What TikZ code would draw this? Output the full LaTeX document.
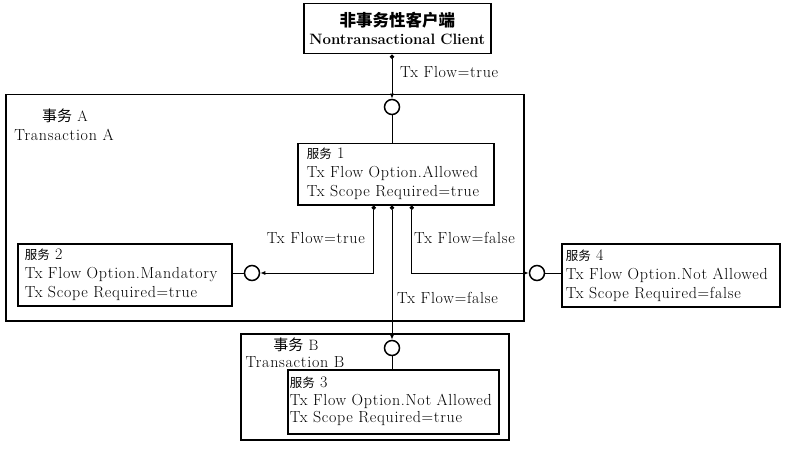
\documentclass[tikz,border=0pt]{standalone}
\usepackage{fontspec}
\newfontfamily\cjk{Noto Sans CJK SC}
\newfontfamily\wide{Latin Modern Roman}[LetterSpace=4.5]
\usetikzlibrary{arrows.meta,positioning,calc}
\tikzset{
  svcbox/.style={draw, line width=1.5pt, align=left, anchor=north west,
    inner xsep=4pt, inner ysep=0pt, font=\wide\fontsize{16}{19}\selectfont},
  txframe/.style={draw, line width=1.5pt, anchor=north west, inner sep=0pt},
  port/.style={draw, circle, line width=1.5pt, minimum size=15pt, inner sep=0pt, fill=white},
  flow/.style={line width=1pt, {Circle[length=4.5pt]}-{Latex[length=5pt,width=4pt]}},
  wire/.style={line width=1pt},
  flowlabel/.style={font=\wide\fontsize{16}{19}\selectfont, inner sep=0pt},
}
\begin{document}
\begin{tikzpicture}[x=1pt, y=-1pt]
\useasboundingbox (0,0) rectangle (791,449);
% ---------------- transaction frames ----------------
\node[txframe, minimum width=518pt, minimum height=226pt] (txA) at (5,94) {};
\node[font=\wide\fontsize{15}{15}\selectfont, inner sep=0pt] (txAcn) at (65,116) {{\cjk 事务} A};
\node[font=\wide\fontsize{16}{16}\selectfont, inner sep=0pt] (txAen) at (64,135) {Transaction A};
\node[txframe, minimum width=268pt, minimum height=106pt] (txB) at (240,333) {};
\node[font=\wide\fontsize{15}{15}\selectfont, inner sep=0pt] (txBcn) at (296,345) {{\cjk 事务} B};
\node[font=\wide\fontsize{16}{16}\selectfont, inner sep=0pt] (txBen) at (295,362.5) {Transaction B};
% ---------------- client and services ----------------
\node[svcbox, align=center, minimum width=187pt, minimum height=50pt, text width=179pt,
  font=\fontsize{15}{18}\selectfont\bfseries] (client) at (303,3)
  {{\cjk\fontsize{16.5}{18}\selectfont 非事务性客户端}\\Nontransactional Client};
\node[svcbox, minimum width=196pt, minimum height=61pt, text width=178pt, inner xsep=9pt] (s1) at (297,143)
  {{\cjk\fontsize{12.5}{19}\selectfont 服务} 1\\Tx Flow Option.Allowed\\Tx Scope Required=true};
\node[svcbox, minimum width=214pt, minimum height=62pt, text width=200pt, inner xsep=7pt] (s2) at (17,243)
  {{\cjk\fontsize{12.5}{19}\selectfont 服务} 2\\Tx Flow Option.Mandatory\\Tx Scope Required=true};
\node[svcbox, minimum width=218pt, minimum height=63pt, text width=210pt] (s4) at (561,243)
  {{\cjk\fontsize{12.5}{19}\selectfont 服务} 4\\Tx Flow Option.Not Allowed\\Tx Scope Required=false};
\node[svcbox, minimum width=211pt, minimum height=64pt, text width=207pt, inner xsep=2pt,
  font=\wide\fontsize{16}{17.5}\selectfont] (s3) at (287,369)
  {{\cjk\fontsize{12.5}{17.5}\selectfont 服务} 3\\Tx Flow Option.Not Allowed\\Tx Scope Required=true};
% ports
\node[port] (c1) at (392,107) {};
\node[port] (c2) at (252,273) {};
\node[port] (c4) at (537,273) {};
\node[port] (c3) at (392,348) {};
% ---------------- flows ----------------
\draw[flow] (client.south -| c1) -- (c1);
\draw[wire] (c1) -- (s1.north -| c1);
\draw[flow] ($(s1.south)+(-22,0)$) |- (c2);
\draw[flow] (s1.south -| c3) -- (c3);
\draw[flow] ($(s1.south)+(16,0)$) |- (c4);
\draw[wire] (c2) -- (c2 -| s2.east);
\draw[wire] (c4) -- (c4 -| s4.west);
\draw[wire] (c3) -- (c3 |- s3.north);
\node[flowlabel, anchor=west] (l1) at (400,72) {Tx Flow=true};
\node[flowlabel, anchor=east] (l2) at (365,238) {Tx Flow=true};
\node[flowlabel, anchor=west] (l3) at (414,238) {Tx Flow=false};
\node[flowlabel, anchor=west] (l4) at (397,298) {Tx Flow=false};
\end{tikzpicture}
\end{document}
